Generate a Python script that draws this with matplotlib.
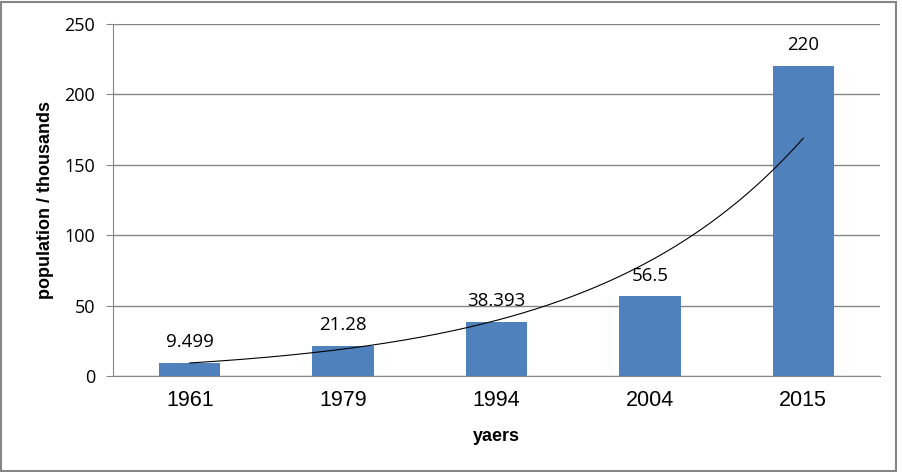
import numpy as np
import matplotlib.pyplot as plt
from matplotlib.patches import Rectangle

# data
years = ['1961', '1979', '1994', '2004', '2015']
population = [9.499, 21.28, 38.393, 56.5, 220]
value_labels = ['9.499', '21.28', '38.393', '56.5', '220']
y_ticks = [0, 50, 100, 150, 200, 250]

W, H = 903, 472
fig = plt.figure(figsize=(W / 100, H / 100), dpi=100)
ax = fig.add_axes([113 / W, 1 - 376 / H, (880 - 113) / W, (376 - 24) / H])

x = np.arange(1, len(years) + 1)
ax.bar(x, population, width=0.4, color='#4F81BD', zorder=2)

# exponential trendline, as excel fits it
b, ln_a = np.polyfit(x, np.log(population), 1)
xs = np.linspace(1, len(years), 200)
ax.plot(xs, np.exp(ln_a) * np.exp(b * xs), color='black', lw=0.8, zorder=3)

for xi, v, lab in zip(x, population, value_labels):
    ax.annotate(lab, (xi, v), xytext=(0, 15), textcoords='offset points',
                ha='center', va='center', fontsize=13.5, family='Open Sans')

ax.set_xlim(0.5, len(years) + 0.5)
ax.set_ylim(0, 250)
ax.set_yticks(y_ticks)
ax.set_xticks(x, years)
ax.grid(axis='y', color='#868686', lw=1, zorder=0)
for s in ['top', 'right']:
    ax.spines[s].set_visible(False)
for s in ['left', 'bottom']:
    ax.spines[s].set_color('#868686')
ax.tick_params(axis='y', length=5, color='#868686', labelsize=13, pad=8)
ax.tick_params(axis='x', length=0, labelsize=15.5, pad=10)
for t in ax.get_yticklabels():
    t.set_family('Open Sans')
for t in ax.get_xticklabels():
    t.set_family('Liberation Sans')

ax.set_xlabel('yaers', fontsize=13, fontweight='bold', family='Liberation Sans', labelpad=12)
ax.set_ylabel('population / thousands', fontsize=13, fontweight='bold', family='Liberation Sans', labelpad=7)

fig.patches.append(Rectangle((1.5 / W, 1.5 / H), (896 - 1.5) / W, (470 - 1.5) / H,
                             transform=fig.transFigure, fill=False, edgecolor='#868686', lw=1.5))

fig.savefig('out.png', dpi=100)
